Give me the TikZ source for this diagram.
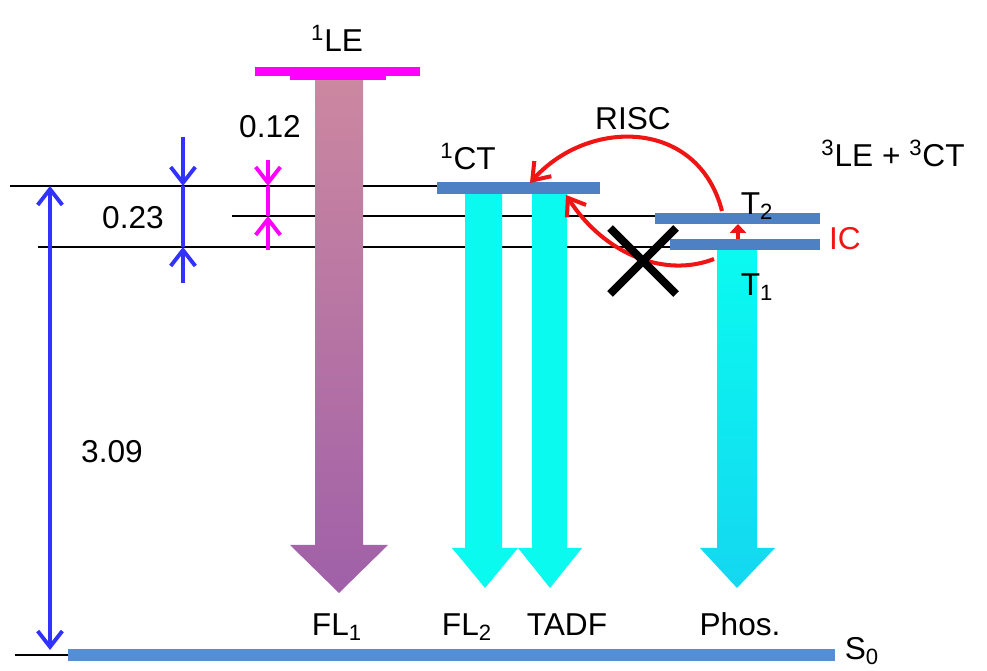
\documentclass[tikz,border=0pt]{standalone}
\usepackage{fontspec}
\setmainfont{Liberation Sans}
\usetikzlibrary{arrows.meta}

\definecolor{levelblue}{RGB}{78,128,196}
\definecolor{groundblue}{RGB}{86,142,212}
\definecolor{dimblue}{RGB}{50,50,255}
\definecolor{lemagenta}{RGB}{255,0,255}
\definecolor{procred}{RGB}{240,20,20}
\definecolor{fluocyan}{RGB}{10,250,240}
\definecolor{phoscyan}{RGB}{20,215,240}
\definecolor{letop}{RGB}{204,136,160}
\definecolor{lebottom}{RGB}{160,96,168}

\tikzset{
  lbl/.style={anchor=base, font=\fontsize{18}{20}\selectfont},
  guide/.style={line width=1.2pt, black},
  dimline/.style={line width=2.2pt, {Straight Barb[length=9pt,width=14pt]}-{Straight Barb[length=9pt,width=14pt]}},
  dimend/.style={line width=2.2pt, -{Straight Barb[length=9pt,width=14pt]}},
  procarrow/.style={procred, line width=2.3pt, -{Straight Barb[length=9pt,width=13pt]}}
}

\begin{document}
\begin{tikzpicture}[x=0.02cm, y=-0.02cm]
        \useasboundingbox (0,0) rectangle (987,671);

        % guide lines at the singlet / triplet / ground levels
        \coordinate (g1a) at (10,186);  \coordinate (g1b) at (437,186);
        \coordinate (g2a) at (232,216); \coordinate (g2b) at (655,216);
        \coordinate (g3a) at (38,247);  \coordinate (g3b) at (670,247);
        \coordinate (g0a) at (15,655);  \coordinate (g0b) at (68,655);
        \draw[guide] (g1a) -- (g1b);
        \draw[guide] (g2a) -- (g2b);
        \draw[guide] (g3a) -- (g3b);
        \draw[guide] (g0a) -- (g0b);

        % emission arrows (FL1, FL2, TADF, Phos.)
        \shade[top color=letop, bottom color=lebottom] (315,76) -- (363,76) -- (363,545) -- (388,545) -- (339,593) -- (290,545) -- (315,545) -- cycle;
        \fill[fluocyan] (465,194) -- (502,194) -- (502,548) -- (518,548) -- (485,588) -- (452,548) -- (465,548) -- cycle;
        \fill[fluocyan] (532,194) -- (567,194) -- (567,548) -- (582,548) -- (550,588) -- (518,548) -- (532,548) -- cycle;
        \shade[top color=fluocyan, bottom color=phoscyan] (717,250) -- (757,250) -- (757,548) -- (775,548) -- (737,588) -- (700,548) -- (717,548) -- cycle;

        % energy levels
        \fill[lemagenta] (255,67) rectangle (420,76);
        \fill[lemagenta] (290,76) rectangle (386,80);
        \fill[levelblue] (437,182) rectangle (600,194);
        \fill[levelblue] (655,213) rectangle (820,224);
        \fill[levelblue] (670,239) rectangle (820,250);
        \fill[groundblue] (68,649) rectangle (835,661);

        % energy gaps
        \coordinate (b1) at (183,137); \coordinate (b2) at (183,186);
        \coordinate (b3) at (183,247); \coordinate (b4) at (183,283);
        \draw[dimblue, dimend] (b1) -- (b2);
        \draw[dimblue, dimend] (b4) -- (b3);
        \draw[dimblue, line width=2.2pt] (b2) -- (b3);
        \coordinate (m1) at (268,160); \coordinate (m2) at (268,186);
        \coordinate (m3) at (268,216); \coordinate (m4) at (268,250);
        \draw[lemagenta, dimend] (m1) -- (m2);
        \draw[lemagenta, dimend] (m4) -- (m3);
        \draw[lemagenta, line width=2.2pt] (m2) -- (m3);
        \coordinate (s1) at (50,186); \coordinate (s0) at (50,650);
        \draw[dimblue, dimline] (s1) -- (s0);

        % RISC and IC
        \coordinate (t2top) at (722,211);
        \coordinate (ctleft) at (530,183);
        \coordinate (t1left) at (714,259);
        \coordinate (ctright) at (566,195);
        \draw[procarrow] (t2top) .. controls (698,118) and (588,118) .. (ctleft);
        \draw[procarrow] (t1left) .. controls (665,278) and (605,255) .. (ctright);
        \coordinate (ic1) at (738,239); \coordinate (ic2) at (738,224);
        \draw[procred, line width=2pt, -{Triangle[length=5pt,width=9pt]}] (ic1) -- (ic2);

        % blocked channel
        \coordinate (xa) at (610,228); \coordinate (xb) at (676,294);
        \coordinate (xc) at (676,228); \coordinate (xd) at (610,294);
        \draw[black, line width=4.5pt] (xa) -- (xb);
        \draw[black, line width=4.5pt] (xc) -- (xd);

        % labels
        \node[lbl] (le) at (337,52) {\textsuperscript{1}LE};
        \node[lbl] (gap12) at (270,138) {0.12};
        \node[lbl] (ct) at (468,170) {\textsuperscript{1}CT};
        \node[lbl] (risc) at (633,130) {RISC};
        \node[lbl] (trip) at (893,167) {\textsuperscript{3}LE + \textsuperscript{3}CT};
        \node[lbl] (t2) at (757,215) {T\textsubscript{2}};
        \node[lbl, text=procred] (ic) at (845,250) {IC};
        \node[lbl] (t1) at (757,296) {T\textsubscript{1}};
        \node[lbl] (gap23) at (133,229) {0.23};
        \node[lbl] (gap309) at (112,463) {3.09};
        \node[lbl] (fl1) at (337,636) {FL\textsubscript{1}};
        \node[lbl] (fl2) at (467,636) {FL\textsubscript{2}};
        \node[lbl] (tadf) at (567,636) {TADF};
        \node[lbl] (phos) at (740,636) {Phos.};
        \node[lbl] (sz) at (862,660) {S\textsubscript{0}};
    \end{tikzpicture}
\end{document}
